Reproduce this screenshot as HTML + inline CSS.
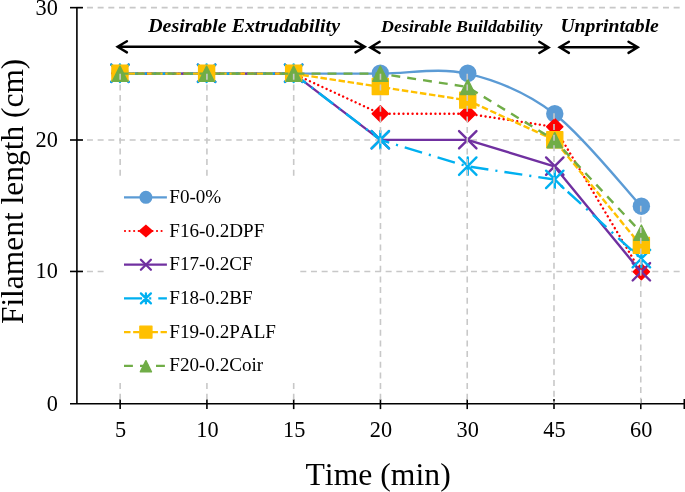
<!DOCTYPE html>
<html lang="en">
<head>
<meta charset="utf-8">
<title>Filament length vs Time</title>
<style>
html,body{margin:0;padding:0;background:#fff;}
body{width:685px;height:492px;overflow:hidden;font-family:"Liberation Serif",serif;}
svg{display:block;font-kerning:none;}
text{font-kerning:none;}
</style>
</head>
<body>
<svg width="685" height="492" viewBox="0 0 685 492" role="img" aria-label="Filament length versus time chart">
<rect width="685" height="492" fill="#fff"/>
<g stroke="#c8c8c8" stroke-width="1.6" stroke-dasharray="6 4.667" fill="none">
<path d="M76.3 271.45H680"/>
<path d="M76.3 140H680"/>
<path d="M76.3 7.65H680"/>
</g>
<path d="M119.55 73.66C134.07 73.66 177.66 73.66 206.66 73.66C235.66 73.66 264.63 73.66 293.57 73.66C322.51 73.66 351.31 73.66 380.28 73.66C409.25 73.66 438.39 66.98 467.39 73.66C496.39 80.33 525.36 91.64 554.28 113.71C583.21 135.79 626.52 190.72 640.97 206.13" stroke="#5B9BD5" stroke-width="2.4" fill="none" stroke-linejoin="round"/>
<circle cx="119.95" cy="73.26" r="8.7" fill="#5B9BD5"/>
<circle cx="206.6" cy="73.26" r="8.7" fill="#5B9BD5"/>
<circle cx="293.65" cy="73.26" r="8.7" fill="#5B9BD5"/>
<circle cx="380.3" cy="73.26" r="8.7" fill="#5B9BD5"/>
<circle cx="467.75" cy="73.26" r="8.7" fill="#5B9BD5"/>
<circle cx="554.77" cy="113.76" r="8.7" fill="#5B9BD5"/>
<circle cx="641.37" cy="206.18" r="8.7" fill="#5B9BD5"/>
<path d="M119.55 73.66L206.66 73.66L293.57 73.66L380.28 113.71L467.39 113.71L554.28 126.87L640.97 271.93" stroke="#FF0000" stroke-width="2.4" fill="none" stroke-linejoin="round" stroke-dasharray="0.01 4.563" stroke-linecap="round"/>
<path d="M111.85 73.26L119.95 65.16L128.05 73.26L119.95 81.36Z" fill="#FF0000" stroke="#FF0000" stroke-width="1.4" stroke-linejoin="round"/>
<path d="M198.5 73.26L206.6 65.16L214.7 73.26L206.6 81.36Z" fill="#FF0000" stroke="#FF0000" stroke-width="1.4" stroke-linejoin="round"/>
<path d="M285.55 73.26L293.65 65.16L301.75 73.26L293.65 81.36Z" fill="#FF0000" stroke="#FF0000" stroke-width="1.4" stroke-linejoin="round"/>
<path d="M372.2 113.76L380.3 105.66L388.4 113.76L380.3 121.86Z" fill="#FF0000" stroke="#FF0000" stroke-width="1.4" stroke-linejoin="round"/>
<path d="M459.65 113.76L467.75 105.66L475.85 113.76L467.75 121.86Z" fill="#FF0000" stroke="#FF0000" stroke-width="1.4" stroke-linejoin="round"/>
<path d="M546.67 126.86L554.77 118.77L562.87 126.86L554.77 134.97Z" fill="#FF0000" stroke="#FF0000" stroke-width="1.4" stroke-linejoin="round"/>
<path d="M633.27 271.78L641.37 263.68L649.47 271.78L641.37 279.88Z" fill="#FF0000" stroke="#FF0000" stroke-width="1.4" stroke-linejoin="round"/>
<path d="M119.55 73.66L206.66 73.66L293.57 73.66L380.28 139.92L467.39 139.92L554.28 166.32L640.97 271.93" stroke="#7030A0" stroke-width="2.4" fill="none" stroke-linejoin="round"/>
<path d="M111.25 64.56L128.65 81.96M111.25 81.96L128.65 64.56" stroke="#7030A0" stroke-width="2.4" fill="none" stroke-linecap="round"/>
<path d="M197.9 64.56L215.3 81.96M197.9 81.96L215.3 64.56" stroke="#7030A0" stroke-width="2.4" fill="none" stroke-linecap="round"/>
<path d="M284.95 64.56L302.35 81.96M284.95 81.96L302.35 64.56" stroke="#7030A0" stroke-width="2.4" fill="none" stroke-linecap="round"/>
<path d="M371.6 131.07L389 148.47M371.6 148.47L389 131.07" stroke="#7030A0" stroke-width="2.4" fill="none" stroke-linecap="round"/>
<path d="M459.05 131.07L476.45 148.47M459.05 148.47L476.45 131.07" stroke="#7030A0" stroke-width="2.4" fill="none" stroke-linecap="round"/>
<path d="M546.07 157.47L563.47 174.87M546.07 174.87L563.47 157.47" stroke="#7030A0" stroke-width="2.4" fill="none" stroke-linecap="round"/>
<path d="M632.67 263.08L650.07 280.48M632.67 280.48L650.07 263.08" stroke="#7030A0" stroke-width="2.4" fill="none" stroke-linecap="round"/>
<path d="M119.55 73.66L206.66 73.66L293.57 73.66L380.28 139.92L467.39 166.32L554.28 179.52L640.97 258.73" stroke="#00B0F0" stroke-width="2.4" fill="none" stroke-linejoin="round" stroke-dasharray="18.1 7.05 2.1 7.05"/>
<path d="M111.25 64.56L128.65 81.96M111.25 81.96L128.65 64.56M119.95 64.56L119.95 81.96" stroke="#00B0F0" stroke-width="2.4" fill="none" stroke-linecap="round"/>
<path d="M197.9 64.56L215.3 81.96M197.9 81.96L215.3 64.56M206.6 64.56L206.6 81.96" stroke="#00B0F0" stroke-width="2.4" fill="none" stroke-linecap="round"/>
<path d="M284.95 64.56L302.35 81.96M284.95 81.96L302.35 64.56M293.65 64.56L293.65 81.96" stroke="#00B0F0" stroke-width="2.4" fill="none" stroke-linecap="round"/>
<path d="M371.6 131.07L389 148.47M371.6 148.47L389 131.07M380.3 131.07L380.3 148.47" stroke="#00B0F0" stroke-width="2.4" fill="none" stroke-linecap="round"/>
<path d="M459.05 157.47L476.45 174.87M459.05 174.87L476.45 157.47M467.75 157.47L467.75 174.87" stroke="#00B0F0" stroke-width="2.4" fill="none" stroke-linecap="round"/>
<path d="M546.07 170.67L563.47 188.07M546.07 188.07L563.47 170.67M554.77 170.67L554.77 188.07" stroke="#00B0F0" stroke-width="2.4" fill="none" stroke-linecap="round"/>
<path d="M632.67 249.88L650.07 267.28M632.67 267.28L650.07 249.88M641.37 249.88L641.37 267.28" stroke="#00B0F0" stroke-width="2.4" fill="none" stroke-linecap="round"/>
<path d="M119.55 73.66L206.66 73.66L293.57 73.66L380.28 86.91L467.39 100.31L554.28 139.92L640.97 245.53" stroke="#FFC000" stroke-width="2.4" fill="none" stroke-linejoin="round" stroke-dasharray="6.5 2.647"/>
<path d="M111.95 65.26H127.95V81.26H111.95Z" fill="#FFC000" stroke="#FFC000" stroke-width="1.4" stroke-linejoin="round"/>
<path d="M198.6 65.26H214.6V81.26H198.6Z" fill="#FFC000" stroke="#FFC000" stroke-width="1.4" stroke-linejoin="round"/>
<path d="M285.65 65.26H301.65V81.26H285.65Z" fill="#FFC000" stroke="#FFC000" stroke-width="1.4" stroke-linejoin="round"/>
<path d="M372.3 78.56H388.3V94.56H372.3Z" fill="#FFC000" stroke="#FFC000" stroke-width="1.4" stroke-linejoin="round"/>
<path d="M459.75 92.16H475.75V108.16H459.75Z" fill="#FFC000" stroke="#FFC000" stroke-width="1.4" stroke-linejoin="round"/>
<path d="M546.77 131.77H562.77V147.77H546.77Z" fill="#FFC000" stroke="#FFC000" stroke-width="1.4" stroke-linejoin="round"/>
<path d="M633.37 237.38H649.37V253.38H633.37Z" fill="#FFC000" stroke="#FFC000" stroke-width="1.4" stroke-linejoin="round"/>
<path d="M119.55 73.66L206.66 73.66L293.57 73.66L380.28 73.66L467.39 86.91L554.28 139.92L640.97 232.33" stroke="#70AD47" stroke-width="2.4" fill="none" stroke-linejoin="round" stroke-dasharray="8.9 7.1"/>
<path d="M119.95 66.12L127.52 81.26L112.38 81.26Z" fill="#70AD47" stroke="#70AD47" stroke-width="1.4" stroke-linejoin="round"/>
<path d="M206.6 66.12L214.17 81.26L199.03 81.26Z" fill="#70AD47" stroke="#70AD47" stroke-width="1.4" stroke-linejoin="round"/>
<path d="M293.65 66.12L301.22 81.26L286.08 81.26Z" fill="#70AD47" stroke="#70AD47" stroke-width="1.4" stroke-linejoin="round"/>
<path d="M380.3 66.12L387.87 81.26L372.73 81.26Z" fill="#70AD47" stroke="#70AD47" stroke-width="1.4" stroke-linejoin="round"/>
<path d="M467.75 79.43L475.32 94.56L460.18 94.56Z" fill="#70AD47" stroke="#70AD47" stroke-width="1.4" stroke-linejoin="round"/>
<path d="M554.77 132.63L562.34 147.77L547.2 147.77Z" fill="#70AD47" stroke="#70AD47" stroke-width="1.4" stroke-linejoin="round"/>
<path d="M641.37 225.04L648.94 240.18L633.8 240.18Z" fill="#70AD47" stroke="#70AD47" stroke-width="1.4" stroke-linejoin="round"/>
<g stroke="#000" stroke-width="1.6" fill="none">
<path d="M76.9 7.15V403.3"/>
<path d="M70 403.8H685"/>
<path d="M70 271.45H83"/>
<path d="M70 140H83"/>
<path d="M70 7.65H83"/>
<path d="M120.15 399.1V409.1"/>
<path d="M206.92 399.1V409.1"/>
<path d="M293.69 399.1V409.1"/>
<path d="M380.46 399.1V409.1"/>
<path d="M467.23 399.1V409.1"/>
<path d="M554 399.1V409.1"/>
<path d="M640.77 399.1V409.1"/>
<path d="M684.3 399.1V409.1"/>
</g>
<g stroke="#c8c8c8" stroke-width="1.6" stroke-dasharray="6 4.667" fill="none">
<path d="M120.15 73.76V403.3"/>
<path d="M206.92 73.76V403.3"/>
<path d="M293.69 73.76V403.3"/>
<path d="M380.46 73.76V403.3"/>
<path d="M467.23 73.76V403.3"/>
<path d="M554 113.36V403.3"/>
<path d="M640.77 205.78V403.3"/>
</g>
<rect x="105" y="176" width="195" height="205" fill="#fff"/>
<g font-family="'Liberation Serif', serif" font-size="19.1" fill="#000">
<path d="M124 197.3H166.9" stroke="#5B9BD5" stroke-width="2.2" fill="none"/>
<circle cx="145.9" cy="197.3" r="6.5" fill="#5B9BD5"/>
<text x="169.3" y="202.8">F0-0%</text>
<path d="M125 231H163" stroke="#FF0000" stroke-width="2.2" fill="none" stroke-dasharray="0.01 4.563" stroke-linecap="round"/>
<path d="M138.4 231L145.9 224.5L153.4 231L145.9 237.5Z" fill="#FF0000"/>
<text x="169.3" y="236.5">F16-0.2DPF</text>
<path d="M124 264.7H166.9" stroke="#7030A0" stroke-width="2.2" fill="none"/>
<path d="M140.9 259.7L150.9 269.7M140.9 269.7L150.9 259.7" stroke="#7030A0" stroke-width="2.3" fill="none" stroke-linecap="round"/>
<text x="169.3" y="270.2">F17-0.2CF</text>
<path d="M124 298.4H166.9" stroke="#00B0F0" stroke-width="2.2" fill="none" stroke-dasharray="18.1 7.05 2.1 7.05"/>
<path d="M140.9 293.4L150.9 303.4M140.9 303.4L150.9 293.4M145.9 293.4L145.9 303.4" stroke="#00B0F0" stroke-width="2.3" fill="none" stroke-linecap="round"/>
<text x="169.3" y="303.9">F18-0.2BF</text>
<path d="M124 332.1H166.9" stroke="#FFC000" stroke-width="2.2" fill="none" stroke-dasharray="6.5 2.647"/>
<path d="M139.9 326.1H151.9V338.1H139.9Z" fill="#FFC000" stroke="#FFC000" stroke-width="1.4" stroke-linejoin="round"/>
<text x="169.3" y="337.6">F19-0.2PALF</text>
<path d="M124 365.8H166.9" stroke="#70AD47" stroke-width="2.2" fill="none" stroke-dasharray="8.9 7.1"/>
<path d="M145.9 360.67L151.47 371.8L140.33 371.8Z" fill="#70AD47" stroke="#70AD47" stroke-width="1.4" stroke-linejoin="round"/>
<text x="169.3" y="371.3">F20-0.2Coir</text>
</g>
<g font-family="'Liberation Serif', serif" font-size="21.33" fill="#000">
<text x="57.9" y="410.8" text-anchor="end" font-size="22.3">0</text>
<text x="57.9" y="278.45" text-anchor="end" font-size="22.3">10</text>
<text x="57.9" y="147" text-anchor="end" font-size="22.3">20</text>
<text x="57.9" y="14.65" text-anchor="end" font-size="22.3">30</text>
<text x="120.65" y="437" text-anchor="middle" font-size="22.3">5</text>
<text x="207.42" y="437" text-anchor="middle" font-size="22.3">10</text>
<text x="294.19" y="437" text-anchor="middle" font-size="22.3">15</text>
<text x="380.96" y="437" text-anchor="middle" font-size="22.3">20</text>
<text x="467.73" y="437" text-anchor="middle" font-size="22.3">30</text>
<text x="554.5" y="437" text-anchor="middle" font-size="22.3">45</text>
<text x="641.27" y="437" text-anchor="middle" font-size="22.3">60</text>
</g>
<g font-family="'Liberation Serif', serif" font-size="31.45" fill="#000">
<text x="305.5" y="484.7" font-size="31.7">Time (min)</text>
<text transform="translate(22.7 324.1) rotate(-90)">Filament length (cm)</text>
</g>
<g font-family="'Liberation Serif', serif" font-weight="bold" font-style="italic" fill="#000">
<text transform="translate(148.2 32) scale(1.08 1)" font-size="18.43">Desirable Extrudability</text>
<text transform="translate(381.1 31.6) scale(1.08 1)" font-size="16.57">Desirable Buildability</text>
<text transform="translate(560.4 31.6) scale(1.08 1)" font-size="18.24">Unprintable</text>
</g>
<path d="M117.6 46.8H364.8M126.9 41.2L117.6 46.8L126.9 52.4M355.5 41.2L364.8 46.8L355.5 52.4" stroke="#000" stroke-width="2.4" fill="none" stroke-linecap="round" stroke-linejoin="miter"/>
<path d="M370.3 47.4H548.6M379.6 41.8L370.3 47.4L379.6 53M539.3 41.8L548.6 47.4L539.3 53" stroke="#000" stroke-width="2.4" fill="none" stroke-linecap="round" stroke-linejoin="miter"/>
<path d="M559.6 47.3H637.8M568.9 41.7L559.6 47.3L568.9 52.9M628.5 41.7L637.8 47.3L628.5 52.9" stroke="#000" stroke-width="2.4" fill="none" stroke-linecap="round" stroke-linejoin="miter"/>
</svg>
</body>
</html>
